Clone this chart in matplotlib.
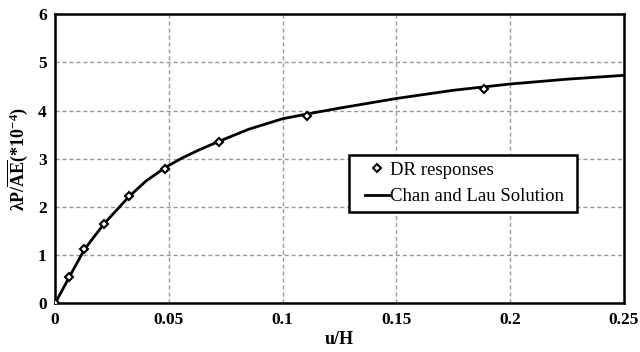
import matplotlib.pyplot as plt
from matplotlib.patches import Rectangle

# Chan and Lau solution
curve_x = [0, 0.0063, 0.0129, 0.0215, 0.0326, 0.04, 0.0485, 0.056, 0.0636, 0.072, 0.085,
           0.1, 0.111, 0.125, 0.1338, 0.15, 0.175, 0.2, 0.225, 0.25]
curve_y = [0, 0.55, 1.12, 1.65, 2.22, 2.54, 2.82, 3.02, 3.19, 3.36, 3.61,
           3.83, 3.93, 4.05, 4.12, 4.25, 4.42, 4.55, 4.65, 4.73]

# DR responses
dr_x = [0, 0.0063, 0.0129, 0.0215, 0.0326, 0.0485, 0.072, 0.1108, 0.1886]
dr_y = [0, 0.55, 1.12, 1.65, 2.22, 2.79, 3.34, 3.89, 4.44]

xticks = [0, 0.05, 0.1, 0.15, 0.2, 0.25]
xtick_labels = ['0', '0.05', '0.1', '0.15', '0.2', '0.25']
yticks = [0, 1, 2, 3, 4, 5, 6]

plt.rcParams['font.family'] = ['Liberation Serif', 'DejaVu Serif']
plt.rcParams['mathtext.fontset'] = 'custom'
plt.rcParams['mathtext.rm'] = 'Liberation Serif:bold'
plt.rcParams['mathtext.bf'] = 'Liberation Serif:bold'
plt.rcParams['mathtext.it'] = 'Liberation Serif:bold'

fig = plt.figure(figsize=(6.4, 3.52), dpi=100)
ax = fig.add_axes([0.086, 0.138, 0.889, 0.822])

ax.plot(dr_x, dr_y, linestyle='none', marker='D', markersize=4.5,
        markerfacecolor='white', markeredgecolor='black', markeredgewidth=1.5,
        label='DR responses', zorder=3)
ax.plot(curve_x, curve_y, color='black', linewidth=2, label='Chan and Lau Solution', zorder=2)

ax.set_xlim(0, 0.25)
ax.set_ylim(0, 6)
ax.set_xticks(xticks)
ax.set_xticklabels(xtick_labels)
ax.set_yticks(yticks)
ax.tick_params(length=0, labelsize=12.5, pad=6)
for lab in ax.get_xticklabels() + ax.get_yticklabels():
    lab.set_fontweight('bold')

ax.grid(color='#999999', linestyle='--', linewidth=1, dashes=(3, 2))
for s in ax.spines.values():
    s.set_linewidth(1.8)

ax.set_xlabel('u/H', fontsize=13, fontweight='bold', labelpad=2)
ax.set_ylabel(r'$\lambda P/\overline{AE}(*10^{-4})$', fontsize=13, labelpad=6)

# legend box drawn by hand (wider side padding than matplotlib's frame allows)
box = Rectangle((0.517, 0.316), 0.4, 0.197, transform=ax.transAxes,
                facecolor='white', edgecolor='black', linewidth=1.8, zorder=4)
ax.add_patch(box)
leg = ax.legend(loc='upper left', bbox_to_anchor=(0.545, 0.49), fontsize=13.5,
                frameon=False, handlelength=1.3, handletextpad=0.05, borderpad=0,
                labelspacing=0.49, borderaxespad=0)
leg.set_zorder(5)

fig.savefig('out.png', dpi=100)
